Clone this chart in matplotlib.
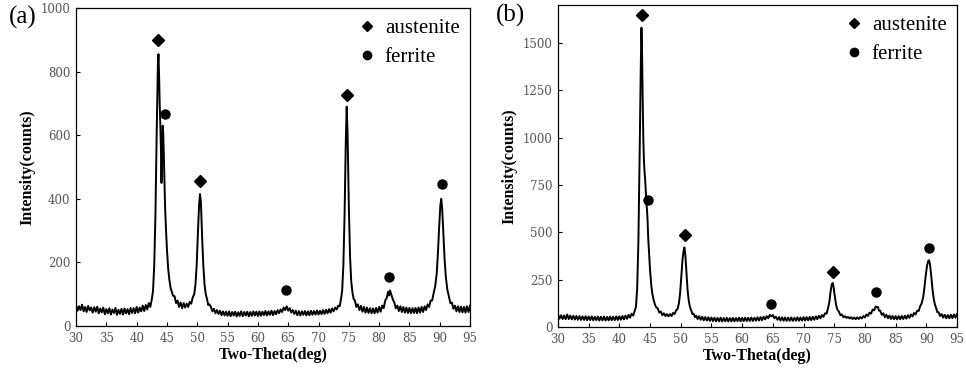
"""
XRD patterns (a) and (b): austenite / ferrite peaks.
"""
import numpy as np
import matplotlib.pyplot as plt
from matplotlib.lines import Line2D

#<---------------------------Datos---------------------------->
# (two-theta, counts)
scan_a = [
    (30.0, 66), (30.25, 48), (30.5, 62), (30.75, 50), (31.0, 67), (31.25, 46), (31.5, 60), (31.75, 44),
    (32.0, 63), (32.25, 49), (32.5, 58), (32.75, 42), (33.0, 59), (33.25, 45), (33.5, 61), (33.75, 40),
    (34.0, 55), (34.25, 43), (34.5, 58), (34.75, 37), (35.0, 53), (35.25, 40), (35.5, 56), (35.75, 36),
    (36.0, 52), (36.25, 41), (36.5, 57), (36.75, 35), (37.0, 51), (37.25, 38), (37.5, 54), (37.75, 36),
    (38.0, 55), (38.25, 40), (38.5, 53), (38.75, 37), (39.0, 57), (39.25, 41), (39.5, 56), (39.75, 40),
    (40.0, 60), (40.25, 42), (40.5, 58), (40.75, 46), (41.0, 64), (41.25, 47), (41.5, 66), (41.75, 52),
    (42.0, 72), (42.25, 60), (42.5, 84), (42.7, 110), (42.9, 190), (43.1, 350), (43.3, 600), (43.5, 820),
    (43.6, 855), (43.7, 790), (43.8, 700), (43.9, 640), (44.0, 560), (44.1, 450), (44.2, 560), (44.3, 630),
    (44.4, 600), (44.5, 520), (44.6, 440), (44.7, 370), (44.85, 300), (45.0, 240), (45.2, 180), (45.4, 145),
    (45.6, 120), (45.8, 108), (46.0, 95), (46.25, 94), (46.5, 72), (46.75, 80), (47.0, 60), (47.25, 74),
    (47.5, 56), (47.75, 72), (48.0, 58), (48.25, 70), (48.5, 60), (48.75, 76), (49.0, 70), (49.25, 90),
    (49.5, 100), (49.7, 130), (49.9, 190), (50.1, 290), (50.3, 380), (50.45, 415), (50.6, 390), (50.8, 280),
    (51.0, 190), (51.2, 130), (51.4, 100), (51.6, 86), (51.8, 66), (52.0, 68), (52.25, 60), (52.5, 46),
    (52.75, 54), (53.0, 40), (53.25, 50), (53.5, 38), (53.75, 48), (54.0, 34), (54.25, 46), (54.5, 33),
    (54.75, 45), (55.0, 32), (55.25, 46), (55.5, 31), (55.75, 44), (56.0, 33), (56.25, 45), (56.5, 30),
    (56.75, 43), (57.0, 32), (57.25, 46), (57.5, 31), (57.75, 44), (58.0, 33), (58.25, 45), (58.5, 30),
    (58.75, 44), (59.0, 32), (59.25, 46), (59.5, 33), (59.75, 45), (60.0, 31), (60.25, 46), (60.5, 32),
    (60.75, 45), (61.0, 34), (61.25, 47), (61.5, 33), (61.75, 46), (62.0, 35), (62.25, 48), (62.5, 34),
    (62.75, 47), (63.0, 37), (63.25, 50), (63.5, 40), (63.75, 52), (64.0, 44), (64.25, 58), (64.5, 50),
    (64.75, 62), (65.0, 48), (65.25, 56), (65.5, 42), (65.75, 50), (66.0, 38), (66.25, 48), (66.5, 34),
    (66.75, 47), (67.0, 33), (67.25, 46), (67.5, 35), (67.75, 47), (68.0, 33), (68.25, 46), (68.5, 34),
    (68.75, 48), (69.0, 35), (69.25, 47), (69.5, 36), (69.75, 49), (70.0, 36), (70.25, 48), (70.5, 37),
    (70.75, 50), (71.0, 38), (71.25, 51), (71.5, 40), (71.75, 53), (72.0, 42), (72.25, 55), (72.5, 46),
    (72.75, 58), (73.0, 52), (73.25, 64), (73.5, 62), (73.7, 84), (73.9, 110), (74.1, 190), (74.3, 350),
    (74.5, 580), (74.65, 690), (74.8, 600), (75.0, 380), (75.2, 220), (75.4, 140), (75.6, 105), (75.8, 85),
    (76.0, 80), (76.25, 60), (76.5, 68), (76.75, 50), (77.0, 63), (77.25, 45), (77.5, 60), (77.75, 42),
    (78.0, 58), (78.25, 41), (78.5, 56), (78.75, 40), (79.0, 55), (79.25, 40), (79.5, 57), (79.75, 42),
    (80.0, 60), (80.25, 45), (80.5, 64), (80.75, 56), (81.0, 80), (81.25, 88), (81.5, 108), (81.65, 96),
    (81.8, 112), (82.0, 100), (82.25, 84), (82.5, 74), (82.75, 56), (83.0, 64), (83.25, 47), (83.5, 62),
    (83.75, 44), (84.0, 60), (84.25, 42), (84.5, 58), (84.75, 41), (85.0, 57), (85.25, 40), (85.5, 56),
    (85.75, 41), (86.0, 57), (86.25, 40), (86.5, 58), (86.75, 42), (87.0, 60), (87.25, 44), (87.5, 62),
    (87.75, 50), (88.0, 68), (88.25, 60), (88.5, 80), (88.75, 80), (89.0, 104), (89.25, 125), (89.5, 165),
    (89.7, 230), (89.9, 310), (90.1, 380), (90.25, 400), (90.4, 370), (90.6, 290), (90.8, 210), (91.0, 155),
    (91.25, 115), (91.5, 94), (91.75, 72), (92.0, 74), (92.25, 54), (92.5, 64), (92.75, 46), (93.0, 62),
    (93.25, 44), (93.5, 61), (93.75, 43), (94.0, 60), (94.25, 42), (94.5, 62), (94.75, 44), (95.0, 64),
]

scan_b = [
    (30.0, 64), (30.25, 44), (30.5, 62), (30.75, 42), (31.0, 61), (31.25, 41), (31.5, 66), (31.75, 42),
    (32.0, 60), (32.25, 40), (32.5, 59), (32.75, 39), (33.0, 58), (33.25, 38), (33.5, 57), (33.75, 37),
    (34.0, 56), (34.25, 37), (34.5, 57), (34.75, 36), (35.0, 55), (35.25, 36), (35.5, 56), (35.75, 35),
    (36.0, 54), (36.25, 36), (36.5, 55), (36.75, 34), (37.0, 54), (37.25, 35), (37.5, 55), (37.75, 34),
    (38.0, 53), (38.25, 35), (38.5, 55), (38.75, 36), (39.0, 54), (39.25, 36), (39.5, 56), (39.75, 37),
    (40.0, 56), (40.25, 38), (40.5, 58), (40.75, 40), (41.0, 60), (41.25, 43), (41.5, 64), (41.75, 49),
    (42.0, 70), (42.25, 60), (42.5, 84), (42.7, 105), (42.9, 200), (43.1, 450), (43.3, 900), (43.5, 1400),
    (43.6, 1580), (43.7, 1450), (43.8, 1200), (43.9, 1000), (44.0, 880), (44.1, 820), (44.2, 780), (44.3, 720),
    (44.4, 660), (44.5, 620), (44.6, 560), (44.7, 470), (44.85, 380), (45.0, 300), (45.2, 220), (45.4, 170),
    (45.6, 140), (45.8, 118), (46.0, 104), (46.25, 98), (46.5, 76), (46.75, 82), (47.0, 62), (47.25, 72),
    (47.5, 58), (47.75, 68), (48.0, 56), (48.25, 68), (48.5, 58), (48.75, 74), (49.0, 68), (49.25, 88),
    (49.5, 96), (49.7, 125), (49.9, 180), (50.1, 270), (50.3, 360), (50.5, 410), (50.6, 420), (50.75, 380),
    (50.9, 300), (51.1, 200), (51.3, 140), (51.5, 105), (51.7, 88), (51.9, 68), (52.1, 70), (52.3, 52),
    (52.5, 60), (52.75, 42), (53.0, 57), (53.25, 38), (53.5, 54), (53.75, 35), (54.0, 52), (54.25, 34),
    (54.5, 51), (54.75, 32), (55.0, 50), (55.25, 31), (55.5, 49), (55.75, 30), (56.0, 48), (56.25, 30),
    (56.5, 49), (56.75, 29), (57.0, 47), (57.25, 30), (57.5, 48), (57.75, 29), (58.0, 47), (58.25, 30),
    (58.5, 48), (58.75, 30), (59.0, 47), (59.25, 31), (59.5, 49), (59.75, 30), (60.0, 48), (60.25, 31),
    (60.5, 49), (60.75, 31), (61.0, 48), (61.25, 32), (61.5, 50), (61.75, 32), (62.0, 49), (62.25, 33),
    (62.5, 51), (62.75, 34), (63.0, 52), (63.25, 36), (63.5, 54), (63.75, 40), (64.0, 57), (64.25, 46),
    (64.5, 64), (64.75, 56), (65.0, 63), (65.25, 46), (65.5, 54), (65.75, 38), (66.0, 52), (66.25, 34),
    (66.5, 51), (66.75, 33), (67.0, 50), (67.25, 32), (67.5, 49), (67.75, 33), (68.0, 50), (68.25, 32),
    (68.5, 49), (68.75, 33), (69.0, 51), (69.25, 33), (69.5, 50), (69.75, 34), (70.0, 52), (70.25, 34),
    (70.5, 52), (70.75, 35), (71.0, 53), (71.25, 36), (71.5, 54), (71.75, 38), (72.0, 56), (72.25, 41),
    (72.5, 59), (72.75, 46), (73.0, 63), (73.25, 54), (73.5, 72), (73.75, 70), (74.0, 100), (74.2, 130),
    (74.4, 185), (74.6, 225), (74.75, 232), (74.9, 210), (75.1, 160), (75.3, 118), (75.5, 92), (75.75, 82),
    (76.0, 62), (76.25, 66), (76.5, 51), (76.75, 57), (77.0, 48), (77.25, 53), (77.5, 45), (77.75, 51),
    (78.0, 42), (78.25, 50), (78.5, 41), (78.75, 51), (79.0, 42), (79.25, 52), (79.5, 45), (79.75, 58),
    (80.0, 50), (80.25, 66), (80.5, 58), (80.75, 76), (81.0, 70), (81.25, 92), (81.5, 88), (81.75, 108),
    (81.9, 104), (82.1, 106), (82.3, 86), (82.5, 86), (82.75, 64), (83.0, 72), (83.25, 51), (83.5, 64),
    (83.75, 46), (84.0, 60), (84.25, 42), (84.5, 58), (84.75, 41), (85.0, 57), (85.25, 40), (85.5, 57),
    (85.75, 41), (86.0, 58), (86.25, 42), (86.5, 59), (86.75, 44), (87.0, 62), (87.25, 48), (87.5, 66),
    (87.75, 56), (88.0, 74), (88.25, 66), (88.5, 86), (88.75, 84), (89.0, 110), (89.25, 125), (89.5, 160),
    (89.7, 210), (89.9, 270), (90.1, 320), (90.3, 348), (90.45, 352), (90.6, 330), (90.8, 270), (91.0, 200),
    (91.2, 150), (91.4, 118), (91.6, 100), (91.8, 78), (92.0, 78), (92.25, 58), (92.5, 68), (92.75, 49),
    (93.0, 64), (93.25, 46), (93.5, 63), (93.75, 46), (94.0, 64), (94.25, 47), (94.5, 66), (94.75, 49),
    (95.0, 68),
]

# phase marks above the peaks
austenite_a = [(43.6, 900), (50.5, 455), (74.7, 726)]
ferrite_a = [(44.6, 668), (64.65, 112), (81.7, 153), (90.35, 446)]
austenite_b = [(43.7, 1648), (50.65, 488), (74.75, 292)]
ferrite_b = [(44.6, 672), (64.75, 122), (81.85, 187), (90.5, 418)]

x_ticks = [30, 35, 40, 45, 50, 55, 60, 65, 70, 75, 80, 85, 90, 95]
y_ticks_a = [0, 200, 400, 600, 800, 1000]
y_ticks_b = [0, 250, 500, 750, 1000, 1250, 1500]

#<---------------------------Grafica---------------------------->
serif = "Liberation Serif"
tick_font = "DejaVu Serif"

def panel(ax, scan, aus, fer, yticks, ymax):
    xy = np.array(scan)
    ax.plot(xy[:, 0], xy[:, 1], color="black", lw=1.4)
    a = np.array(aus)
    f = np.array(fer)
    ax.plot(a[:, 0], a[:, 1], "D", color="black", ms=6.5, ls="none")
    ax.plot(f[:, 0], f[:, 1], "o", color="black", ms=6.5, ls="none")
    ax.set_xlim(30, 95)
    ax.set_ylim(0, ymax)
    ax.set_xticks(x_ticks)
    ax.set_yticks(yticks)
    ax.tick_params(direction="in", length=3, width=0.8, labelsize=8.5, labelcolor="#555555", pad=4)
    for lab in ax.get_xticklabels() + ax.get_yticklabels():
        lab.set_family(tick_font)
    for s in ax.spines.values():
        s.set_linewidth(0.9)
    ax.set_xlabel("Two-Theta(deg)", family=serif, fontweight="bold", fontsize=11.5, labelpad=2)
    ax.set_ylabel("Intensity(counts)", family=serif, fontweight="bold", fontsize=11.5, labelpad=4)
    handles = [
        Line2D([], [], marker="D", color="black", ls="none", ms=5.5),
        Line2D([], [], marker="o", color="black", ls="none", ms=6),
    ]
    ax.legend(handles, ["austenite", "ferrite"], loc="upper right", frameon=False,
              prop={"family": serif, "size": 15}, handletextpad=0.35, labelspacing=0.45,
              borderaxespad=0.2, borderpad=0.3, handlelength=1.0)

fig = plt.figure(figsize=(9.66, 3.78), dpi=100)
ax1 = fig.add_axes([0.0787, 0.1376, 0.4079, 0.841])
ax2 = fig.add_axes([0.5776, 0.135, 0.4131, 0.852])

panel(ax1, scan_a, austenite_a, ferrite_a, y_ticks_a, 1000)
panel(ax2, scan_b, austenite_b, ferrite_b, y_ticks_b, 1700)

fig.text(0.009, 0.955, "(a)", family=serif, fontsize=18, va="center")
fig.text(0.513, 0.958, "(b)", family=serif, fontsize=18, va="center")

plt.savefig("out.png", dpi=100)
